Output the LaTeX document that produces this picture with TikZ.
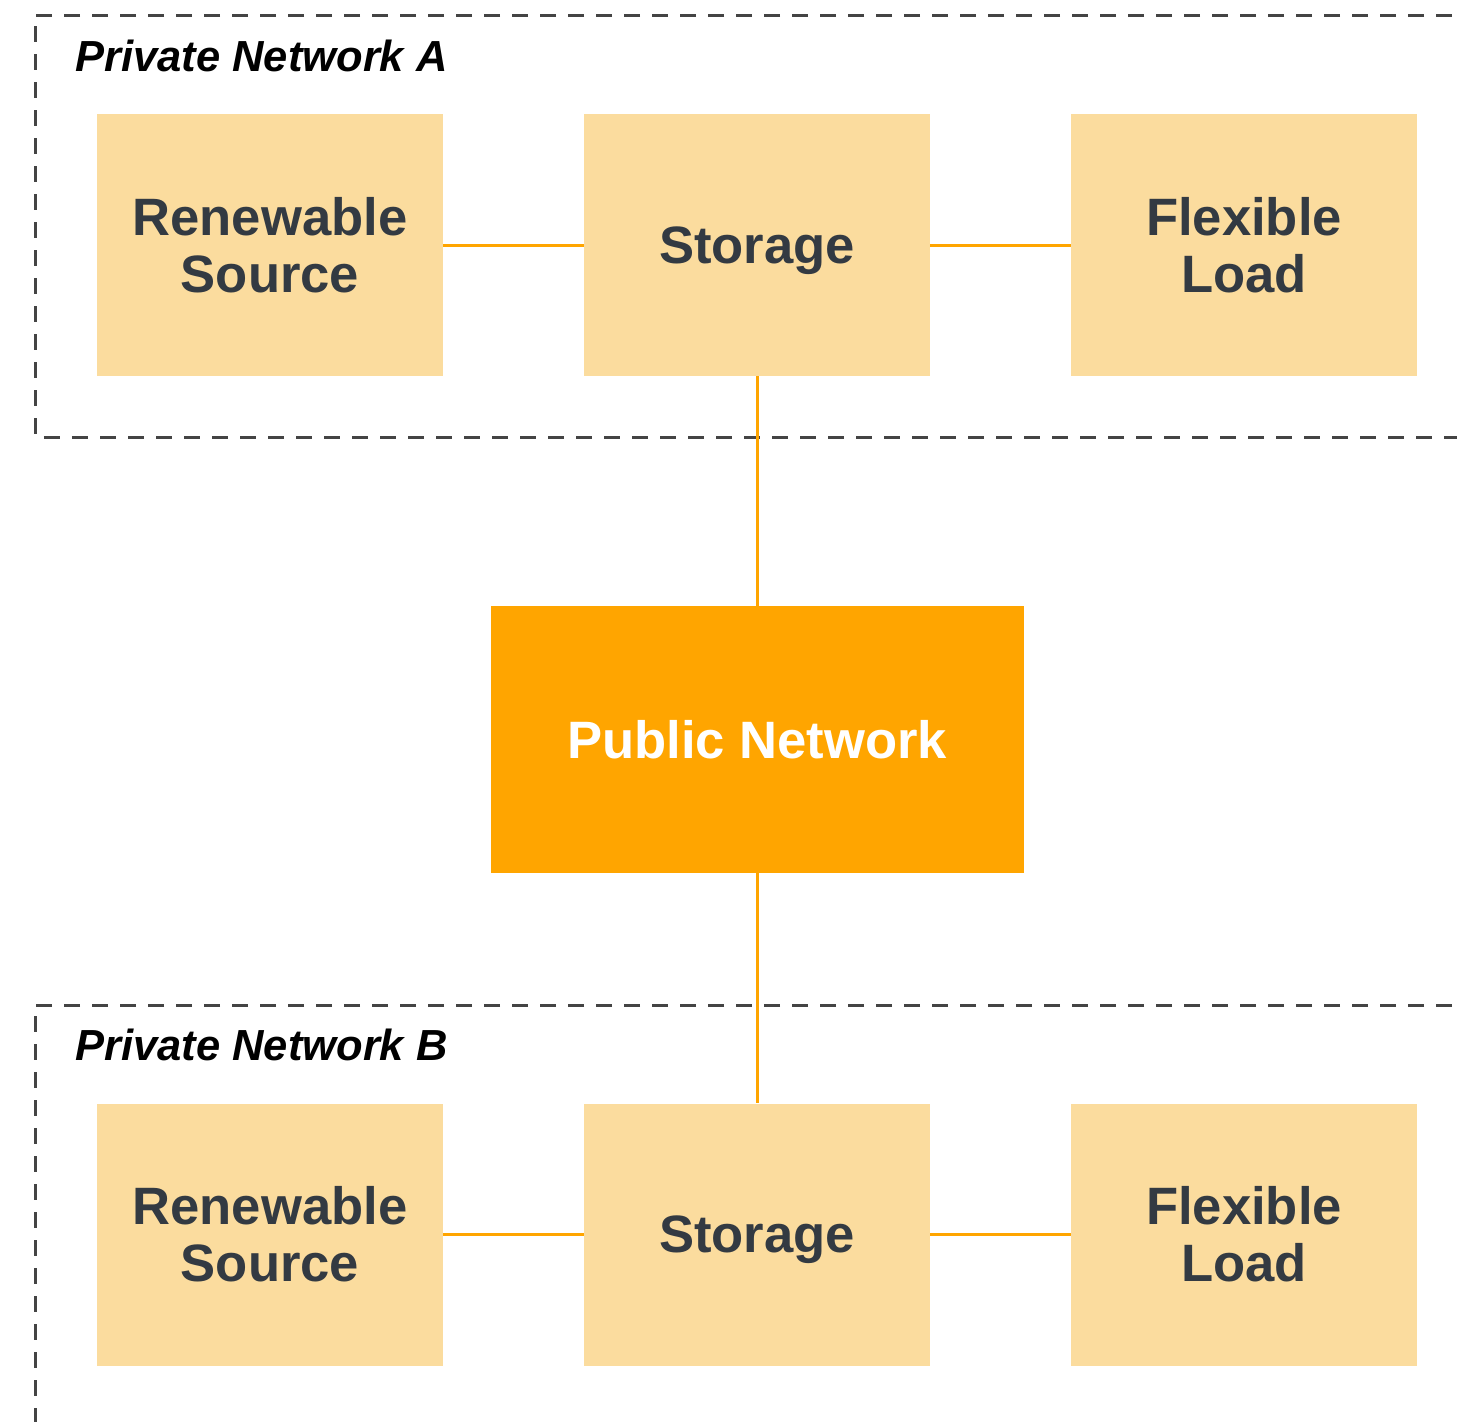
\documentclass[tikz,border=0pt]{standalone}
\usepackage{fontspec}
\setmainfont{Liberation Sans}
\usepackage{tikz}
\definecolor{boxfill}{HTML}{FBDC9E}
\definecolor{boxtext}{HTML}{333A42}
\definecolor{wire}{HTML}{FFA500}
\definecolor{frame}{HTML}{444444}
\tikzset{
    unit/.style={
            fill=boxfill, text=boxtext, minimum width=173pt, minimum height=131pt,
            inner sep=0pt, align=center, font=\fontsize{26.3}{28.5}\selectfont\bfseries
        },
    public/.style={
            unit, fill=wire, text=white, minimum width=266.5pt, minimum height=133.5pt
        },
    wire line/.style={draw=wire, line width=1.5pt},
    frame line/.style={draw=frame, line width=1.5pt, dash pattern=on 8pt off 6pt},
    frame title/.style={anchor=base west, inner sep=0pt, font=\fontsize{21.75}{24}\selectfont\bfseries\itshape}
}
\begin{document}
\begin{tikzpicture}[x=0.5pt, y=-0.5pt]
        \useasboundingbox (0, 0) rectangle (1457, 1421);
        \clip (0, 0) rectangle (1457, 1421);
        %draw private network frames
        \draw[frame line] (1480, 15) -- (35, 15) -- (35, 437) -- (1480, 437);
        \draw[frame line] (1480, 1005) -- (35, 1005) -- (35, 1440);
        %label frames
        \node[frame title] (titleA) at (75, 71) {Private Network A};
        \node[frame title] (titleB) at (75, 1060) {Private Network B};
        %draw network A
        \node[unit] (sourceA) at (270, 245) {Renewable\\Source};
        \node[unit, text depth=0pt] (storageA) at (757, 245) {Storage};
        \node[unit] (loadA) at (1244, 245) {Flexible\\Load};
        %draw public network
        \node[public] (grid) at (757, 739.5) {Public Network};
        %draw network B
        \node[unit] (sourceB) at (270, 1234.5) {Renewable\\Source};
        \node[unit, text depth=0pt] (storageB) at (757, 1234.5) {Storage};
        \node[unit] (loadB) at (1244, 1234.5) {Flexible\\Load};
        %connect
        \draw[wire line] (sourceA) -- (storageA);
        \draw[wire line] (storageA) -- (loadA);
        \draw[wire line] (storageA) -- (grid);
        \draw[wire line] (grid) -- (storageB);
        \draw[wire line] (sourceB) -- (storageB);
        \draw[wire line] (storageB) -- (loadB);
    \end{tikzpicture}
\end{document}
